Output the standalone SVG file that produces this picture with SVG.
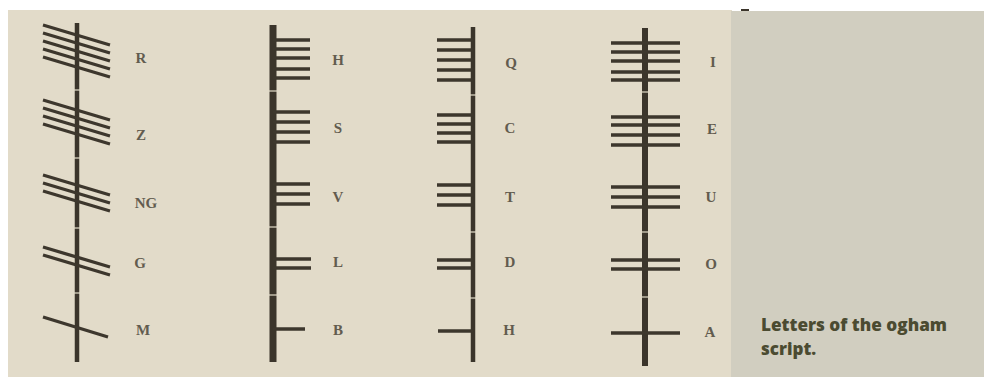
<svg xmlns="http://www.w3.org/2000/svg" width="984" height="377" viewBox="0 0 984 377">
<style>
.bg{fill:#e2dbc9}
.panel{fill:#d1cec0}
.stem{stroke:#3b352b;fill:none}
.st{stroke:#3d372d;stroke-width:3.5;fill:none}
.st1{stroke:#3d372d;stroke-width:3.3;fill:none}
.lab{font-family:"Liberation Serif",serif;font-size:15px;fill:#625c4f;text-anchor:middle;font-weight:bold}
.cap{font-family:"Open Sans",Lato,sans-serif;font-weight:800;font-size:17px;fill:#4b4b31}
.gap{stroke:#e2dbc9;stroke-width:1.5;opacity:0.8}
</style>
<rect width="984" height="377" fill="#ffffff"/>
<rect class="bg" x="8" y="10" width="724" height="367"/>
<rect class="panel" x="731" y="11" width="253" height="366"/>
<rect x="741" y="9" width="8" height="2" fill="#3b352b"/>

<!-- Column 1: diagonal strokes -->
<g id="col1">
  <line class="stem" x1="77" y1="23" x2="77" y2="362" stroke-width="4.5"/>
  <path class="gap" d="M74 90H80M74 158H80M74 228H80M74 293H80"/>
  <g id="R">
    <path class="st1" d="M43 25L110 45M43 33L110 53M43 41L110 61M43 49L110 69M43 57L110 77"/>
    <text class="lab" x="141" y="63">R</text>
  </g>
  <g id="Z">
    <path class="st1" d="M43 100L110 120M43 108L110 128M43 116L110 136M43 124L110 144"/>
    <text class="lab" x="141" y="140">Z</text>
  </g>
  <g id="NG">
    <path class="st1" d="M43 175L110 195M43 183L110 203M43 191L110 211"/>
    <text class="lab" x="146" y="208">NG</text>
  </g>
  <g id="G">
    <path class="st1" d="M43 247L110 267M43 255L110 275"/>
    <text class="lab" x="140" y="268">G</text>
  </g>
  <g id="M">
    <path class="st1" d="M43 317L108 337"/>
    <text class="lab" x="143" y="335">M</text>
  </g>
</g>

<!-- Column 2: strokes to the right -->
<g id="col2">
  <line class="stem" x1="273" y1="25" x2="273" y2="362" stroke-width="7"/>
  <path class="gap" d="M269 91H277M269 227H277M269 295H277"/>
  <g id="H">
    <path class="st" d="M273 40H310M273 49H310M273 58H310M273 69H310M273 78H310"/>
    <text class="lab" x="338" y="65">H</text>
  </g>
  <g id="S">
    <path class="st" d="M273 112H310M273 122H310M273 132H310M273 142H310"/>
    <text class="lab" x="338" y="133">S</text>
  </g>
  <g id="V">
    <path class="st" d="M273 184H310M273 194H310M273 204H310"/>
    <text class="lab" x="338" y="202">V</text>
  </g>
  <g id="L">
    <path class="st" d="M273 259H311M273 268H311"/>
    <text class="lab" x="338" y="267">L</text>
  </g>
  <g id="B">
    <path class="st" d="M273 329H305"/>
    <text class="lab" x="338" y="335">B</text>
  </g>
</g>

<!-- Column 3: strokes to the left -->
<g id="col3">
  <line class="stem" x1="473" y1="27" x2="473" y2="362" stroke-width="4.5"/>
  <path class="gap" d="M470 95H476M470 232H476M470 298H476"/>
  <g id="Q">
    <path class="st1" d="M437 40H473M437 50H473M437 60H473M437 70H473M437 80H473"/>
    <text class="lab" x="511" y="68">Q</text>
  </g>
  <g id="C">
    <path class="st1" d="M437 115H473M437 124H473M437 133H473M437 142H473"/>
    <text class="lab" x="510" y="133">C</text>
  </g>
  <g id="T">
    <path class="st1" d="M437 185H473M437 195H473M437 205H473"/>
    <text class="lab" x="510" y="202">T</text>
  </g>
  <g id="D">
    <path class="st1" d="M437 260H473M437 268H473"/>
    <text class="lab" x="510" y="267">D</text>
  </g>
  <g id="H2">
    <path class="st1" d="M438 331H473"/>
    <text class="lab" x="509" y="335">H</text>
  </g>
</g>

<!-- Column 4: strokes crossing -->
<g id="col4">
  <line class="stem" x1="645" y1="28" x2="645" y2="366" stroke-width="6"/>
  <path class="gap" d="M641 92H649M641 232H649M641 297H649"/>
  <g id="I">
    <path class="st" d="M611 43H680M611 52H680M611 61H680M611 72H680M611 80H680"/>
    <text class="lab" x="713" y="67">I</text>
  </g>
  <g id="E">
    <path class="st" d="M611 117H680M611 125H680M611 135H680M611 145H680"/>
    <text class="lab" x="712" y="134">E</text>
  </g>
  <g id="U">
    <path class="st" d="M611 187H680M611 197H680M611 207H680"/>
    <text class="lab" x="711" y="202">U</text>
  </g>
  <g id="O">
    <path class="st" d="M611 260H680M611 269H680"/>
    <text class="lab" x="711" y="269">O</text>
  </g>
  <g id="A">
    <path class="st" d="M611 333H680"/>
    <text class="lab" x="710" y="337">A</text>
  </g>
</g>

<g id="connectors"></g>

<g id="caption">
  <text class="cap" x="761" y="331" textLength="186" lengthAdjust="spacingAndGlyphs">Letters of the ogham</text>
  <text class="cap" x="761" y="355">script.</text>
</g>
</svg>
